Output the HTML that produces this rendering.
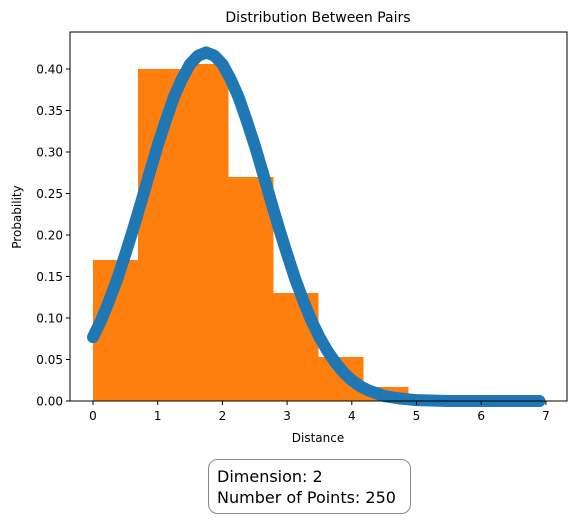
<!DOCTYPE html>
<html><head><meta charset="utf-8"><style>
body{margin:0;background:#fff;}
svg text{font-family:"DejaVu Sans","Liberation Sans",sans-serif;fill:#000;}
</style></head><body>
<svg width="579" height="516">
<rect x="0" y="0" width="579" height="516" fill="#fff"/>
<g id="hist" shape-rendering="crispEdges"></g>
<g id="curve"></g>
<rect x="70" y="32" width="497" height="369" fill="none" stroke="#000" stroke-width="1"/>
<g id="xt"></g>
<g id="yt"></g>
<text x="318" y="22" font-size="14" text-anchor="middle">Distribution Between Pairs</text>
<text x="318" y="442" font-size="12" text-anchor="middle">Distance</text>
<text x="21" y="217" font-size="12" text-anchor="middle" transform="rotate(-90 21 217)">Probability</text>
<rect x="208.5" y="459.5" width="202" height="54" rx="9" fill="#fff" stroke="#888"/>
<text x="217" y="482" font-size="16">Dimension: 2</text>
<text x="217" y="503" font-size="16">Number of Points: 250</text>
</svg>
<script>
const binEdges=[0,0.695,1.39,2.085,2.78,3.475,4.17,4.865];
const binHeights=[0.17,0.40,0.406,0.27,0.13,0.053,0.017];
const curveX=[0,0.125,0.25,0.375,0.5,0.625,0.75,0.875,1,1.125,1.25,1.375,1.5,1.625,1.75,1.875,2,2.125,2.25,2.375,2.5,2.625,2.75,2.875,3,3.125,3.25,3.375,3.5,3.625,3.75,3.875,4,4.125,4.25,4.5,4.75,5,5.5,6,6.5,6.9];
const curveY=[0.077,0.097,0.121,0.147,0.177,0.208,0.241,0.275,0.308,0.338,0.366,0.388,0.406,0.416,0.42,0.416,0.406,0.388,0.366,0.338,0.308,0.275,0.241,0.208,0.177,0.147,0.121,0.097,0.077,0.060,0.046,0.034,0.025,0.018,0.013,0.006,0.003,0.001,0,0,0,0];
const xTicks=[0,1,2,3,4,5,6,7];
const yTicks=[0,0.05,0.10,0.15,0.20,0.25,0.30,0.35,0.40];
const NS="http://www.w3.org/2000/svg";
const sx=v=>93+v*64.7, sy=v=>401-v*830;
function mk(t,a,p){const e=document.createElementNS(NS,t);for(const k in a)e.setAttribute(k,a[k]);p.appendChild(e);return e;}
const hist=document.getElementById('hist');
binHeights.forEach((h,i)=>{const x0=Math.round(sx(binEdges[i])),x1=Math.round(sx(binEdges[i+1]));
const r=mk('rect',{x:x0,y:sy(h),width:x1-x0+0.5,height:sy(0)-sy(h),fill:'#ff7f0e'},hist);

});
const cv=document.getElementById('curve');
const pts=curveX.map((x,i)=>sx(x)+','+sy(curveY[i])).join(' ');
const pl=mk('polyline',{points:pts,fill:'none',stroke:'#1f77b4','stroke-width':12,'stroke-linejoin':'round','stroke-linecap':'round'},cv);


curveX.forEach((x,i)=>{const c=mk('circle',{cx:sx(x),cy:sy(curveY[i]),r:5.5,fill:'#1f77b4'},cv);

});
const xt=document.getElementById('xt');
xTicks.forEach(v=>{mk('line',{x1:sx(v),x2:sx(v),y1:401,y2:405,stroke:'#000'},xt);
const t=mk('text',{x:sx(v),y:420,'font-size':12,'text-anchor':'middle'},xt);t.textContent=v;

});
const yt=document.getElementById('yt');
yTicks.forEach(v=>{mk('line',{x1:66,x2:70,y1:sy(v),y2:sy(v),stroke:'#000'},yt);
const t=mk('text',{x:63,y:sy(v)+4.5,'font-size':12,'text-anchor':'end'},yt);t.textContent=v.toFixed(2);

});
</script>
</body></html>
